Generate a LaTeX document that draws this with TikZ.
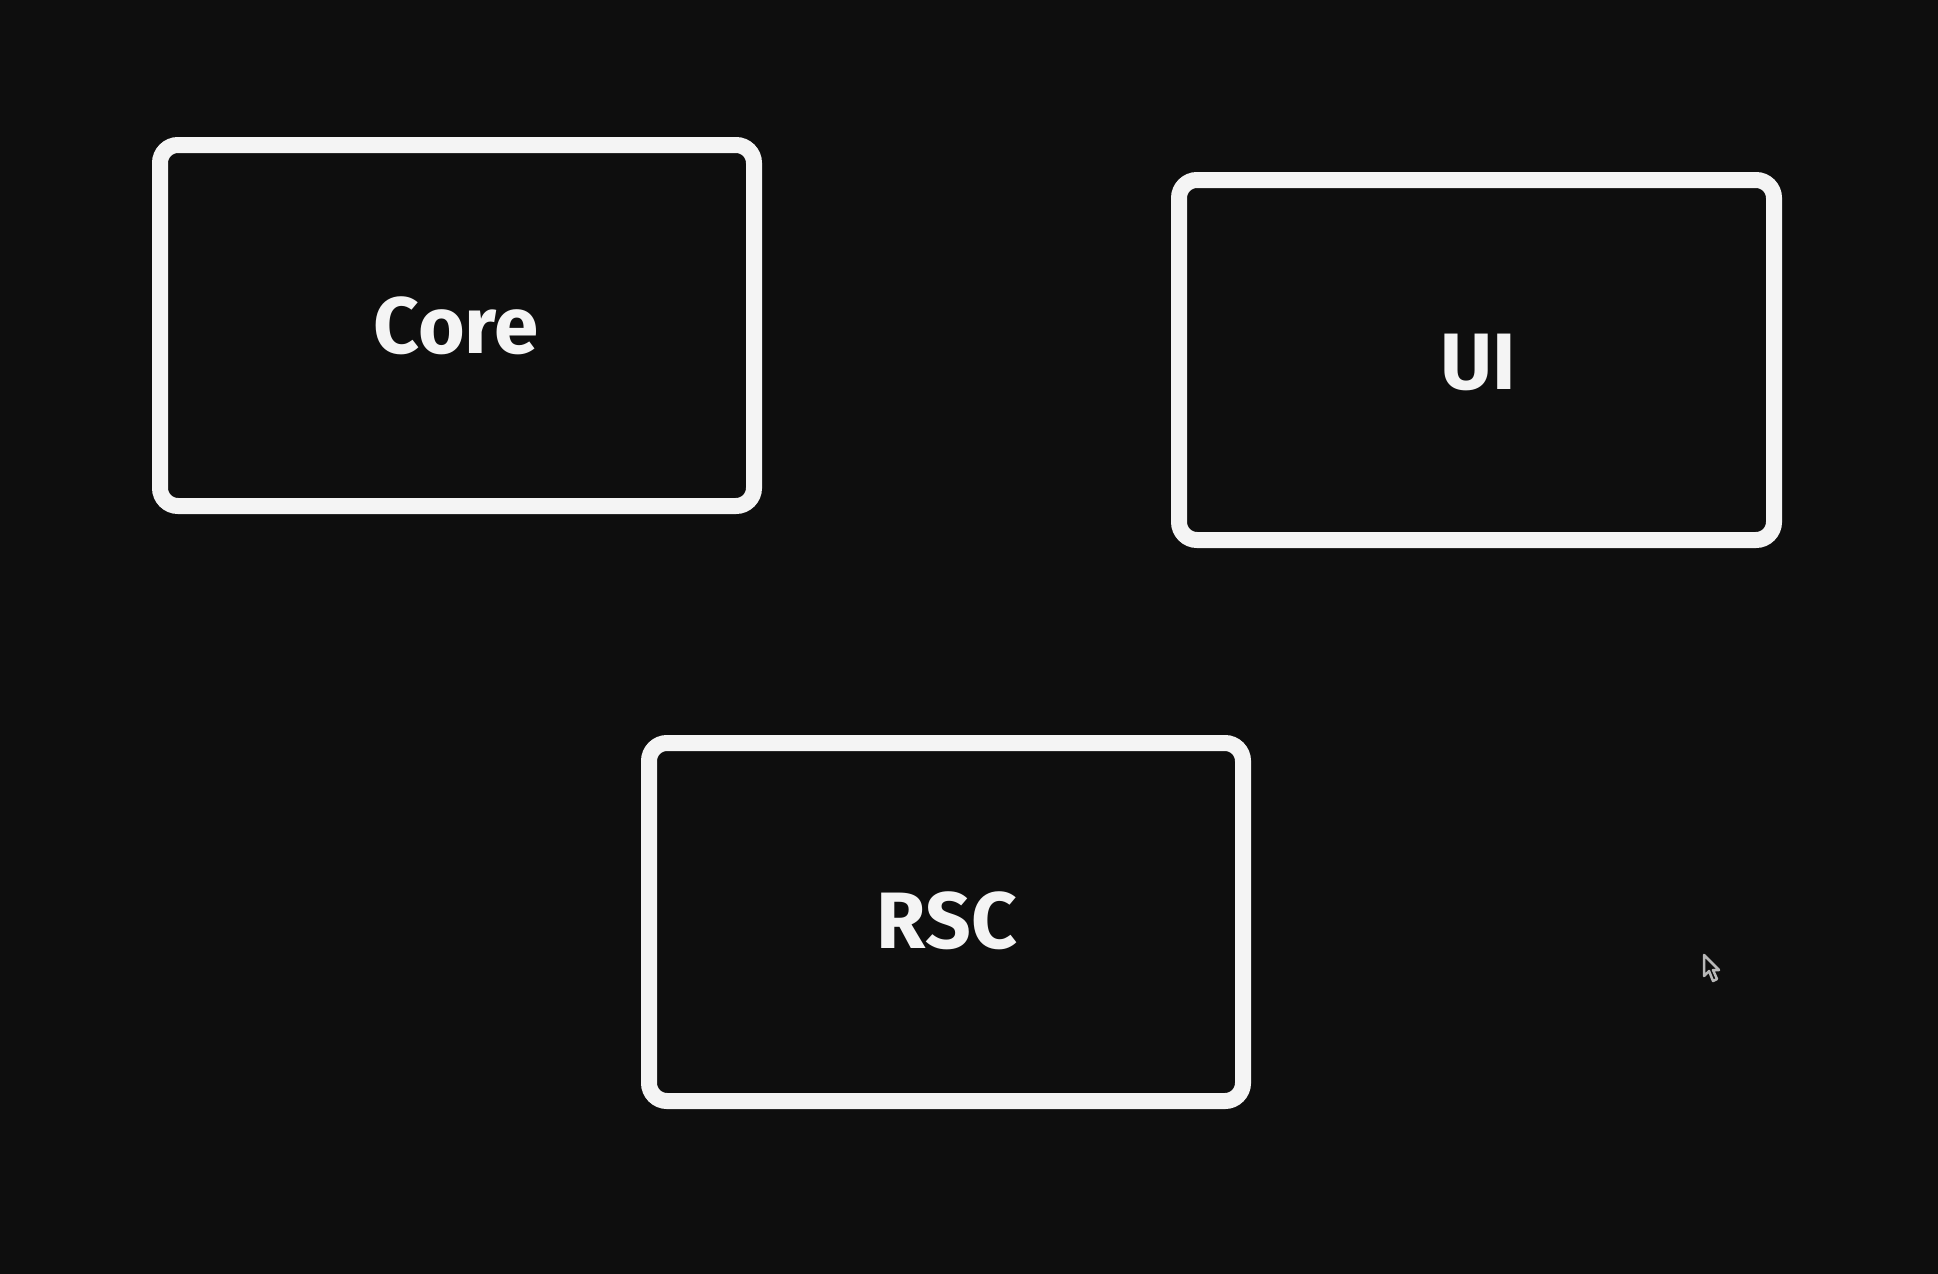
\documentclass[tikz,border=0pt]{standalone}
\usepackage{fontspec}
\setmainfont{Fira Sans}
\begin{document}
\begin{tikzpicture}[x=1pt,y=-1pt,
  box/.style={draw=boxwhite,line width=16pt,rounded corners=18pt,fill=bg},
  lbl/.style={text=boxwhite,font=\fontsize{80}{82}\selectfont\bfseries}]
\definecolor{bg}{HTML}{0E0E0E}
\definecolor{boxwhite}{HTML}{F4F4F4}
\definecolor{cursorgray}{HTML}{B8B8B8}
\fill[bg] (0,0) rectangle (1938,1274);
\useasboundingbox (0,0) rectangle (1938,1274);
\draw[box] (160,145) rectangle (754,506);
\draw[box] (1179,180) rectangle (1774,540);
\draw[box] (649,743) rectangle (1243,1101);
\node[lbl] (core) at (456,326) {Core};
\node[lbl] (ui) at (1478,362) {UI};
\node[lbl] (rsc) at (947,921) {RSC};
\draw[cursorgray,line width=2.5pt,line join=round] (1704,955) -- (1704,976) -- (1709,971) -- (1713,981) -- (1717,979) -- (1713,970) -- (1719,970) -- cycle;
\end{tikzpicture}
\end{document}
